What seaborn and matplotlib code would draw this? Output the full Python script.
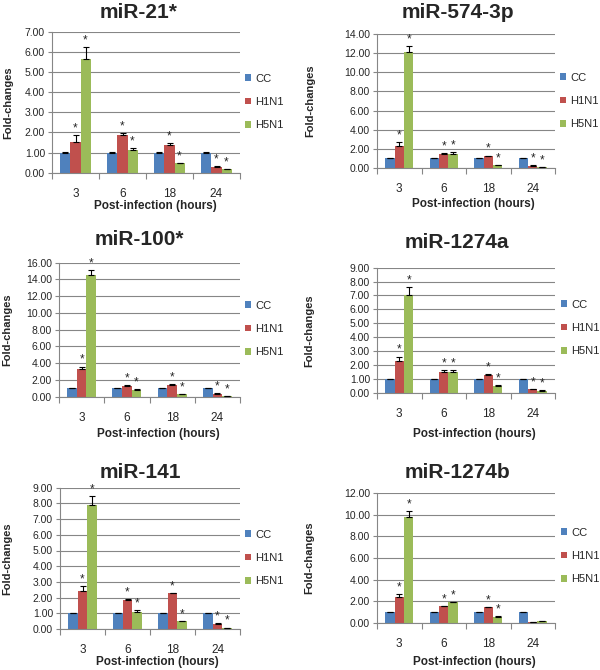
import numpy as np
import pandas as pd
import matplotlib
matplotlib.use("Agg")
import matplotlib.pyplot as plt
import seaborn as sns
from matplotlib.ticker import FixedLocator, FormatStrFormatter

# Data
hours = ["3", "6", "18", "24"]
groups = ["CC", "H1N1", "H5N1"]
colors = ["#4F81BD", "#C0504D", "#9BBB59"]

titles = ["miR-21*", "miR-574-3p", "miR-100*", "miR-1274a", "miR-141", "miR-1274b"]
y_max = [7, 14, 16, 9, 9, 12]
y_step = [1, 2, 2, 1, 1, 2]

cc_mean = [1.00, 1.00, 1.00, 1.00]
cc_err = [0.02, 0.02, 0.02, 0.02]

h1n1_mean = [
    [1.52, 1.88, 1.38, 0.30],
    [2.30, 1.50, 1.25, 0.25],
    [3.30, 1.28, 1.45, 0.38],
    [2.30, 1.50, 1.30, 0.25],
    [2.42, 1.85, 2.28, 0.35],
    [2.38, 1.55, 1.45, 0.10],
]
h1n1_err = [
    [0.35, 0.08, 0.08, 0.02],
    [0.40, 0.05, 0.05, 0.03],
    [0.30, 0.08, 0.05, 0.03],
    [0.30, 0.10, 0.05, 0.03],
    [0.30, 0.05, 0.03, 0.02],
    [0.30, 0.05, 0.05, 0.01],
]
h5n1_mean = [
    [5.62, 1.12, 0.47, 0.18],
    [12.10, 1.45, 0.30, 0.10],
    [14.50, 0.82, 0.28, 0.10],
    [7.00, 1.50, 0.50, 0.15],
    [7.90, 1.10, 0.48, 0.08],
    [9.75, 1.90, 0.60, 0.15],
]
h5n1_err = [
    [0.62, 0.12, 0.02, 0.02],
    [0.60, 0.20, 0.02, 0.02],
    [0.60, 0.05, 0.05, 0.02],
    [0.60, 0.12, 0.03, 0.02],
    [0.55, 0.08, 0.02, 0.01],
    [0.55, 0.05, 0.03, 0.01],
]
# significance stars (H1N1, H5N1) per time point
h1n1_star = [
    [1, 1, 1, 1], [1, 1, 1, 1], [1, 1, 1, 1],
    [1, 1, 1, 1], [1, 1, 1, 1], [1, 1, 1, 0],
]
h5n1_star = [
    [1, 1, 1, 1], [1, 1, 1, 1], [1, 1, 1, 1],
    [1, 1, 1, 1], [1, 1, 1, 1], [1, 1, 1, 0],
]

# Layout in pixels: (left, right, top, bottom) of each plot area
boxes = [
    (52, 240, 31.7, 172.7), (377, 555, 34, 168),
    (59, 240, 262.7, 396.7), (377, 555, 267.7, 392.7),
    (60, 240, 487.7, 629), (377, 555, 493, 623),
]
title_pos = [(139, 13), (458, 13), (139, 240), (457, 243), (140, 472), (458, 472)]
xlabel_pos = [(155, 206), (473, 204), (158, 434), (474, 434), (157, 662), (474, 662)]
ylabel_x = [8, 310, 7, 309, 7, 309]
legend_pos = [(245, 102), (560, 101), (245, 329), (561, 328), (245, 558), (561, 556)]

W, H = 600, 670
sns.set_style("white")
plt.rcParams["font.family"] = ["Liberation Sans", "DejaVu Sans"]
grid_col = "#868686"

fig = plt.figure(figsize=(W / 100, H / 100), dpi=100)

for i in range(6):
    l, r, t, b = boxes[i]
    ax = fig.add_axes([l / W, 1 - b / H, (r - l) / W, (b - t) / H])

    df = pd.DataFrame({
        "hour": hours * 3,
        "group": np.repeat(groups, 4),
        "value": cc_mean + h1n1_mean[i] + h5n1_mean[i],
    })
    sns.barplot(data=df, x="hour", y="value", hue="group", order=hours,
                hue_order=groups, palette=colors, saturation=1, width=0.64,
                errorbar=None, ax=ax, zorder=2, linewidth=0)

    errs = [cc_err, h1n1_err[i], h5n1_err[i]]
    stars = [None, h1n1_star[i], h5n1_star[i]]
    bar_sets = list(ax.containers)
    for k, cont in enumerate(bar_sets):
        xs = [p.get_x() + p.get_width() / 2 for p in cont.patches]
        ys = [p.get_height() for p in cont.patches]
        ax.errorbar(xs, ys, yerr=[np.zeros(4), errs[k]], fmt="none",
                    ecolor="black", elinewidth=0.8, capsize=2.5,
                    capthick=0.8, zorder=3)
        if stars[k] is not None:
            for x, y, e, s in zip(xs, ys, errs[k], stars[k]):
                if s:
                    ax.annotate("*", (x, y + e), xytext=(0, 0.5),
                                textcoords="offset points", ha="center",
                                va="bottom", fontsize=8.5)

    ax.set_ylim(0, y_max[i])
    ax.set_xlim(-0.5, 3.5)
    ax.set_yticks(np.arange(0, y_max[i] + 0.01, y_step[i]))
    ax.yaxis.set_major_formatter(FormatStrFormatter("%.2f"))
    ax.yaxis.grid(True, color=grid_col, lw=0.8, zorder=0)
    ax.set_axisbelow(True)
    ax.xaxis.set_minor_locator(FixedLocator([-0.5, 0.5, 1.5, 2.5, 3.5]))
    ax.tick_params(axis="x", which="major", length=0, pad=11, labelsize=8.5)
    ax.tick_params(axis="x", which="minor", length=4, direction="out",
                   color=grid_col, width=0.8, bottom=True)
    ax.tick_params(axis="y", length=3, direction="out", color=grid_col,
                   width=0.8, labelsize=7.5, pad=2, left=True)
    for side in ["top", "right"]:
        ax.spines[side].set_visible(False)
    for side in ["left", "bottom"]:
        ax.spines[side].set_color(grid_col)
        ax.spines[side].set_linewidth(0.8)
    ax.set_xlabel("")
    ax.set_ylabel("")

    handles, labels = ax.get_legend_handles_labels()
    ax.legend(handles, labels, loc="center left",
              bbox_to_anchor=(legend_pos[i][0] / W, 1 - legend_pos[i][1] / H),
              bbox_transform=fig.transFigure, frameon=False, fontsize=8,
              handlelength=0.55, handleheight=0.55, handletextpad=0.35,
              labelspacing=1.2, borderaxespad=0, borderpad=0)

    tx, ty = title_pos[i]
    fig.text(tx / W, 1 - ty / H, titles[i], ha="center", va="center",
             fontsize=15, fontweight="bold")
    xx, xy = xlabel_pos[i]
    fig.text(xx / W, 1 - xy / H, "Post-infection (hours)", ha="center",
             va="center", fontsize=8.5, fontweight="bold")
    fig.text(ylabel_x[i] / W, 1 - (t + b) / 2 / H, "Fold-changes",
             ha="center", va="center", rotation=90, fontsize=8,
             fontweight="bold")

fig.savefig("out.png", dpi=100)
